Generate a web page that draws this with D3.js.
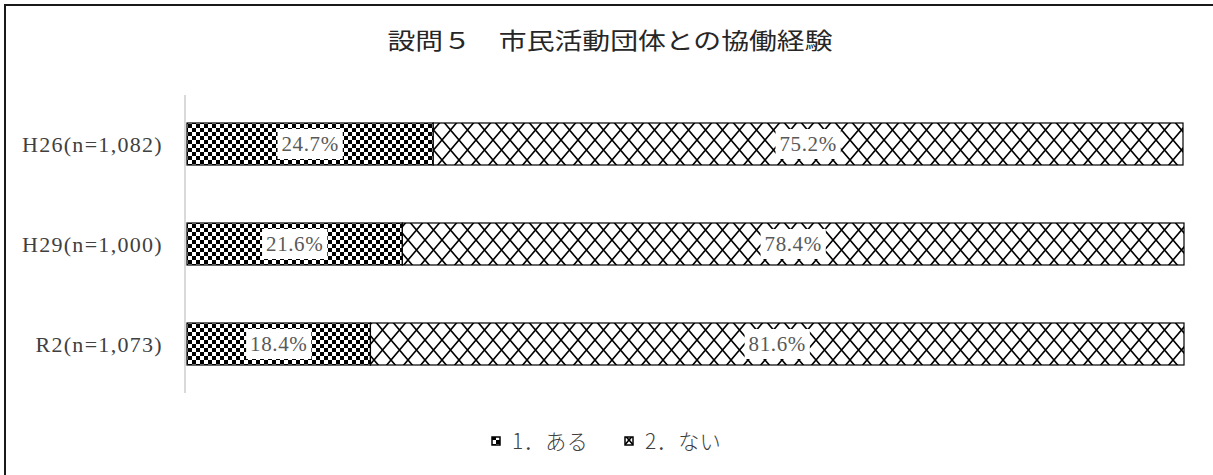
<!DOCTYPE html>
<html>
<head>
<meta charset="utf-8">
<script src="https://cdn.jsdelivr.net/npm/d3@7"></script>
<style>
  html, body { margin: 0; padding: 0; background: #fff; }
  svg { display: block; }
</style>
</head>
<body>
<svg id="chart" width="1213" height="475"></svg>
<script>
const title = "設問５　市民活動団体との協働経験";
const categories = ["H26(n=1,082)", "H29(n=1,000)", "R2(n=1,073)"];
const seriesNames = ["1．ある", "2．ない"];
const aru = [24.7, 21.6, 18.4];
const nai = [75.2, 78.4, 81.6];

const svg = d3.select("#chart");
const W = 1213, H = 475;

// patterns
const defs = svg.append("defs");
const chk = defs.append("pattern").attr("id", "pChk").attr("patternUnits", "userSpaceOnUse")
  .attr("width", 8).attr("height", 8);
chk.append("rect").attr("width", 8).attr("height", 8).attr("fill", "#fff");
chk.append("rect").attr("x", 0).attr("y", 0).attr("width", 4).attr("height", 4).attr("fill", "#000");
chk.append("rect").attr("x", 4).attr("y", 4).attr("width", 4).attr("height", 4).attr("fill", "#000");

const tw = 17, th = 20;
const dia = defs.append("pattern").attr("id", "pDia").attr("patternUnits", "userSpaceOnUse")
  .attr("width", tw).attr("height", th);
dia.append("rect").attr("width", tw).attr("height", th).attr("fill", "#fff");
dia.append("path").attr("d", `M0,0 L${tw},${th} M${tw},0 L0,${th}`)
  .attr("stroke", "#000").attr("stroke-width", 1.6).attr("fill", "none");

const fills = ["url(#pChk)", "url(#pDia)"];

// outer frame (top and left visible)
svg.append("path").attr("d", `M5,${H + 5} L5,5 L${W + 5},5`)
  .attr("fill", "none").attr("stroke", "#1a1a1a").attr("stroke-width", 2);

// title
svg.append("text").attr("x", 610).attr("y", 49).attr("text-anchor", "middle")
  .attr("font-family", "'Noto Sans CJK JP', sans-serif").attr("font-size", 23)
  .attr("fill", "#262626").attr("textLength", 445).attr("lengthAdjust", "spacingAndGlyphs")
  .text(title);

const x = d3.scaleLinear().domain([0, 100]).range([187, 1184]);
const y = d3.scaleBand().domain(categories).range([94, 394]).paddingInner(0.58).paddingOuter(0.29);

// axis line
svg.append("line").attr("x1", 185).attr("x2", 185).attr("y1", 95).attr("y2", 393)
  .attr("stroke", "#d9d9d9").attr("stroke-width", 2);

// category labels
svg.append("g").selectAll("text").data(categories).join("text")
  .attr("x", 163).attr("y", d => y(d) + y.bandwidth() / 2)
  .attr("dy", "0.35em").attr("text-anchor", "end")
  .attr("font-family", "'Liberation Serif', serif").attr("font-size", 22)
  .attr("letter-spacing", 1.3)
  .attr("fill", "#404040")
  .text(d => d);

// stacked data
const rows = categories.map((c, i) => ({ cat: c, vals: [aru[i], nai[i]] }));
const segs = [];
rows.forEach(r => {
  let acc = 0;
  r.vals.forEach((v, k) => { segs.push({ cat: r.cat, k, v, x0: acc, x1: acc + v }); acc += v; });
});

const g = svg.append("g");
g.selectAll("rect").data(segs).join("rect")
  .attr("x", d => x(d.x0)).attr("y", d => y(d.cat))
  .attr("width", d => x(d.x1) - x(d.x0)).attr("height", y.bandwidth())
  .attr("fill", d => fills[d.k]).attr("stroke", "#000").attr("stroke-width", 1.2);

// data labels
const lab = svg.append("g");
segs.forEach(d => {
  const cx = (x(d.x0) + x(d.x1)) / 2;
  const cy = y(d.cat) + y.bandwidth() / 2;
  const bg = lab.append("rect").attr("fill", "#fff");
  const t = lab.append("text").attr("x", cx).attr("y", cy).attr("dy", "0.35em")
    .attr("text-anchor", "middle").attr("font-family", "'Liberation Serif', serif")
    .attr("font-size", 21).attr("letter-spacing", 0.6).attr("fill", "#595959")
    .text(d3.format(".1f")(d.v) + "%");
  const bb = t.node().getBBox();
  bg.attr("x", bb.x - 4).attr("y", cy - 15).attr("width", bb.width + 8).attr("height", 30);
});

// legend
const leg = svg.append("g");
const legX = [492, 625];
seriesNames.forEach((s, i) => {
  leg.append("rect").attr("x", legX[i]).attr("y", 437).attr("width", 8).attr("height", 8)
    .attr("fill", fills[i]).attr("stroke", "#000").attr("stroke-width", 1.5);
  leg.append("text").attr("x", legX[i] + 20).attr("y", 442).attr("dy", "0.35em")
    .attr("font-family", "'Noto Sans CJK JP', sans-serif").attr("font-weight", 300)
    .attr("font-size", 21).attr("letter-spacing", 0.5).attr("fill", "#404040").text(s);
});
</script>
</body>
</html>
